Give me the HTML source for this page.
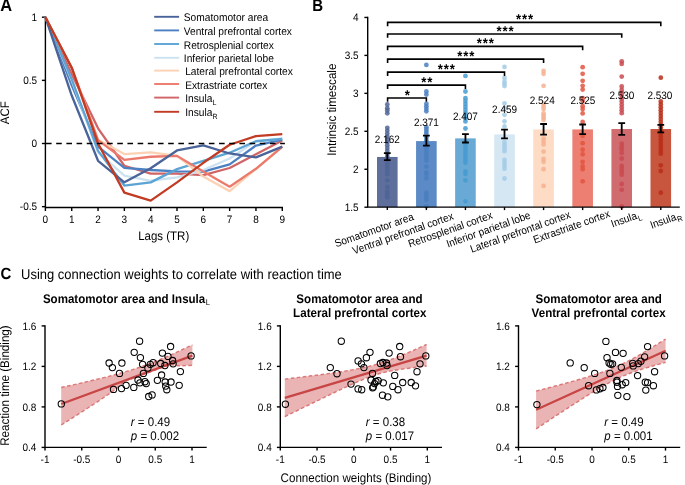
<!DOCTYPE html>
<html><head><meta charset="utf-8"><style>html,body{margin:0;padding:0;background:#fff;width:685px;height:485px;overflow:hidden}svg{display:block;will-change:transform;text-rendering:geometricPrecision}</style></head><body>
<svg width="685" height="485" viewBox="0 0 685 485" font-family="'Liberation Sans', sans-serif">
<rect width="685" height="485" fill="#fff"/>
<text transform="translate(0.2 11.2) scale(1 1.08)" font-weight="bold" font-size="16.4">A</text>
<g stroke="#000" stroke-width="1.4" fill="none">
<path d="M45.4 16.500000000000004V207.5H282.97999999999996"/>
<path d="M41.9 17.200000000000003H45.4"/>
<path d="M41.9 80.35H45.4"/>
<path d="M41.9 143.5H45.4"/>
<path d="M41.9 206.65H45.4"/>
<path d="M45.4 207.5V211.0"/>
<path d="M71.72 207.5V211.0"/>
<path d="M98.03999999999999 207.5V211.0"/>
<path d="M124.36000000000001 207.5V211.0"/>
<path d="M150.68 207.5V211.0"/>
<path d="M177.0 207.5V211.0"/>
<path d="M203.32000000000002 207.5V211.0"/>
<path d="M229.64000000000001 207.5V211.0"/>
<path d="M255.96 207.5V211.0"/>
<path d="M282.28 207.5V211.0"/>
</g>
<text transform="translate(37.1 20.800000000000004) scale(1 1.08)" font-size="10" text-anchor="end">1</text>
<text transform="translate(37.1 83.94999999999999) scale(1 1.08)" font-size="10" text-anchor="end">0.5</text>
<text transform="translate(37.1 147.1) scale(1 1.08)" font-size="10" text-anchor="end">0</text>
<text transform="translate(37.1 210.25) scale(1 1.08)" font-size="10" text-anchor="end">-0.5</text>
<text transform="translate(45.4 222.8) scale(1 1.08)" font-size="10" text-anchor="middle">0</text>
<text transform="translate(71.72 222.8) scale(1 1.08)" font-size="10" text-anchor="middle">1</text>
<text transform="translate(98.03999999999999 222.8) scale(1 1.08)" font-size="10" text-anchor="middle">2</text>
<text transform="translate(124.36000000000001 222.8) scale(1 1.08)" font-size="10" text-anchor="middle">3</text>
<text transform="translate(150.68 222.8) scale(1 1.08)" font-size="10" text-anchor="middle">4</text>
<text transform="translate(177.0 222.8) scale(1 1.08)" font-size="10" text-anchor="middle">5</text>
<text transform="translate(203.32000000000002 222.8) scale(1 1.08)" font-size="10" text-anchor="middle">6</text>
<text transform="translate(229.64000000000001 222.8) scale(1 1.08)" font-size="10" text-anchor="middle">7</text>
<text transform="translate(255.96 222.8) scale(1 1.08)" font-size="10" text-anchor="middle">8</text>
<text transform="translate(282.28 222.8) scale(1 1.08)" font-size="10" text-anchor="middle">9</text>
<text transform="translate(163.7 239.9) scale(1 1.08)" font-size="11.5" text-anchor="middle">Lags (TR)</text>
<text transform="translate(8.8 112.7) rotate(-90) scale(1 1.08)" font-size="11.5" text-anchor="middle">ACF</text>
<polyline points="45.40,17.20 71.72,74.03 98.04,128.34 124.36,165.73 150.68,173.56 177.00,173.56 203.32,175.07 229.64,168.00 255.96,154.24 282.28,140.47" fill="none" stroke="#d06466" stroke-width="2.3" stroke-linejoin="round"/>
<polyline points="45.40,17.20 71.72,85.40 98.04,146.66 124.36,167.88 150.68,170.02 177.00,171.29 203.32,171.54 229.64,164.34 255.96,145.52 282.28,139.71" fill="none" stroke="#4d80c2" stroke-width="2.3" stroke-linejoin="round"/>
<polyline points="45.40,17.20 71.72,80.35 98.04,152.34 124.36,175.71 150.68,180.76 177.00,177.35 203.32,170.02 229.64,158.53 255.96,141.23 282.28,138.32" fill="none" stroke="#cde2f1" stroke-width="2.3" stroke-linejoin="round"/>
<polyline points="45.40,17.20 71.72,79.09 98.04,150.83 124.36,185.56 150.68,182.40 177.00,169.14 203.32,160.80 229.64,152.72 255.96,141.23 282.28,138.95" fill="none" stroke="#5ba4d4" stroke-width="2.3" stroke-linejoin="round"/>
<polyline points="45.40,17.20 71.72,67.72 98.04,139.71 124.36,154.11 150.68,152.47 177.00,155.88 203.32,176.59 229.64,191.12 255.96,168.76 282.28,146.03" fill="none" stroke="#fcd2b5" stroke-width="2.3" stroke-linejoin="round"/>
<polyline points="45.40,17.20 71.72,67.72 98.04,140.09 124.36,159.92 150.68,156.76 177.00,155.88 203.32,171.54 229.64,186.69 255.96,168.76 282.28,146.91" fill="none" stroke="#eb7a6c" stroke-width="2.3" stroke-linejoin="round"/>
<polyline points="45.40,17.20 71.72,95.51 98.04,160.80 124.36,182.27 150.68,168.25 177.00,150.45 203.32,145.39 229.64,153.48 255.96,157.39 282.28,146.66" fill="none" stroke="#4a6398" stroke-width="2.3" stroke-linejoin="round"/>
<polyline points="45.40,17.20 71.72,67.72 98.04,143.50 124.36,192.63 150.68,200.59 177.00,182.40 203.32,162.82 229.64,144.76 255.96,136.05 282.28,134.15" fill="none" stroke="#c23b23" stroke-width="2.3" stroke-linejoin="round"/>
<path d="M46.0 143.5H284.88" stroke="#000" stroke-width="1.6" stroke-dasharray="5.6 4.58" fill="none"/>
<path d="M154.2 16.80H179.1" stroke="#4a6398" stroke-width="1.9"/>
<text transform="translate(183.8 21.40) scale(1 1.08)" font-size="10.2">Somatomotor area</text>
<path d="M154.2 30.40H179.1" stroke="#4d80c2" stroke-width="1.9"/>
<text transform="translate(183.8 35.00) scale(1 1.08)" font-size="10.2">Ventral prefrontal cortex</text>
<path d="M154.2 44.00H179.1" stroke="#5ba4d4" stroke-width="1.9"/>
<text transform="translate(183.8 48.60) scale(1 1.08)" font-size="10.2">Retrosplenial cortex</text>
<path d="M154.2 57.80H179.1" stroke="#cde2f1" stroke-width="1.9"/>
<text transform="translate(183.8 62.40) scale(1 1.08)" font-size="10.2">Inferior parietal lobe</text>
<path d="M154.2 70.60H179.1" stroke="#fcd2b5" stroke-width="1.9"/>
<text transform="translate(185.2 75.20) scale(1 1.08)" font-size="10.2">Lateral prefrontal cortex</text>
<path d="M154.2 84.00H179.1" stroke="#eb7a6c" stroke-width="1.9"/>
<text transform="translate(185.2 88.60) scale(1 1.08)" font-size="10.2">Extrastriate cortex</text>
<path d="M154.2 97.60H179.1" stroke="#d06466" stroke-width="1.9"/>
<text transform="translate(185.2 102.20) scale(1 1.08)" font-size="10.2">Insula<tspan font-size="7" dx="0.2" dy="2.6">L</tspan></text>
<path d="M154.2 111.80H179.1" stroke="#c23b23" stroke-width="1.9"/>
<text transform="translate(185.2 116.40) scale(1 1.08)" font-size="10.2">Insula<tspan font-size="7" dx="0.2" dy="2.6">R</tspan></text>
<text transform="translate(312.3 11.1) scale(1 1.12)" font-weight="bold" font-size="15">B</text>
<rect x="377.00" y="156.95" width="20.6" height="50.15" fill="#5e6f9c"/>
<rect x="416.07" y="141.09" width="20.6" height="66.01" fill="#5b8ac6"/>
<rect x="455.14" y="138.36" width="20.6" height="68.74" fill="#68aad5"/>
<rect x="494.21" y="134.41" width="20.6" height="72.69" fill="#d5e7f3"/>
<rect x="533.28" y="129.48" width="20.6" height="77.62" fill="#fddbc5"/>
<rect x="572.35" y="129.40" width="20.6" height="77.70" fill="#ec7f71"/>
<rect x="611.42" y="129.02" width="20.6" height="78.08" fill="#d06b6f"/>
<rect x="650.49" y="129.02" width="20.6" height="78.08" fill="#c8553e"/>
<circle cx="387.30" cy="104.5" r="2.4" fill="#4f6598" fill-opacity="0.85"/>
<circle cx="387.30" cy="108.2" r="2.4" fill="#4f6598" fill-opacity="0.85"/>
<circle cx="387.30" cy="110.5" r="2.4" fill="#4f6598" fill-opacity="0.85"/>
<circle cx="387.30" cy="113.3" r="2.4" fill="#4f6598" fill-opacity="0.85"/>
<circle cx="387.30" cy="127.8" r="2.4" fill="#4f6598" fill-opacity="0.85"/>
<circle cx="387.30" cy="130.7" r="2.4" fill="#4f6598" fill-opacity="0.85"/>
<circle cx="387.30" cy="133.6" r="2.4" fill="#4f6598" fill-opacity="0.85"/>
<circle cx="387.30" cy="136.5" r="2.4" fill="#4f6598" fill-opacity="0.85"/>
<circle cx="387.30" cy="139.4" r="2.4" fill="#4f6598" fill-opacity="0.85"/>
<circle cx="387.30" cy="142.3" r="2.4" fill="#4f6598" fill-opacity="0.85"/>
<circle cx="387.30" cy="145.2" r="2.4" fill="#4f6598" fill-opacity="0.85"/>
<circle cx="387.30" cy="148.1" r="2.4" fill="#4f6598" fill-opacity="0.85"/>
<circle cx="387.30" cy="151.0" r="2.4" fill="#4f6598" fill-opacity="0.85"/>
<circle cx="387.30" cy="153.9" r="2.4" fill="#4f6598" fill-opacity="0.85"/>
<circle cx="387.30" cy="156.8" r="2.4" fill="#4f6598" fill-opacity="0.85"/>
<circle cx="387.30" cy="159.7" r="2.4" fill="#4f6598" fill-opacity="0.85"/>
<circle cx="387.30" cy="162.6" r="2.4" fill="#4f6598" fill-opacity="0.85"/>
<circle cx="387.30" cy="165.5" r="2.4" fill="#4f6598" fill-opacity="0.85"/>
<circle cx="387.30" cy="168.4" r="2.4" fill="#4f6598" fill-opacity="0.85"/>
<circle cx="387.30" cy="171.3" r="2.4" fill="#4f6598" fill-opacity="0.85"/>
<circle cx="387.30" cy="174.2" r="2.4" fill="#4f6598" fill-opacity="0.85"/>
<circle cx="387.30" cy="180.3" r="2.4" fill="#4f6598" fill-opacity="0.85"/>
<circle cx="387.30" cy="186.9" r="2.4" fill="#4f6598" fill-opacity="0.85"/>
<circle cx="387.30" cy="191.4" r="2.4" fill="#4f6598" fill-opacity="0.85"/>
<circle cx="387.30" cy="193.3" r="2.4" fill="#4f6598" fill-opacity="0.85"/>
<circle cx="387.30" cy="196.4" r="2.4" fill="#4f6598" fill-opacity="0.85"/>
<circle cx="387.30" cy="197.6" r="2.4" fill="#4f6598" fill-opacity="0.85"/>
<circle cx="426.37" cy="64.9" r="2.4" fill="#4a7fc0" fill-opacity="0.85"/>
<circle cx="426.37" cy="91.5" r="2.4" fill="#4a7fc0" fill-opacity="0.85"/>
<circle cx="426.37" cy="94.6" r="2.4" fill="#4a7fc0" fill-opacity="0.85"/>
<circle cx="426.37" cy="103.8" r="2.4" fill="#4a7fc0" fill-opacity="0.85"/>
<circle cx="426.37" cy="106.3" r="2.4" fill="#4a7fc0" fill-opacity="0.85"/>
<circle cx="426.37" cy="108.8" r="2.4" fill="#4a7fc0" fill-opacity="0.85"/>
<circle cx="426.37" cy="111.3" r="2.4" fill="#4a7fc0" fill-opacity="0.85"/>
<circle cx="426.37" cy="127.2" r="2.4" fill="#4a7fc0" fill-opacity="0.85"/>
<circle cx="426.37" cy="129.5" r="2.4" fill="#4a7fc0" fill-opacity="0.85"/>
<circle cx="426.37" cy="131.8" r="2.4" fill="#4a7fc0" fill-opacity="0.85"/>
<circle cx="426.37" cy="134" r="2.4" fill="#4a7fc0" fill-opacity="0.85"/>
<circle cx="426.37" cy="137.5" r="2.4" fill="#4a7fc0" fill-opacity="0.85"/>
<circle cx="426.37" cy="140.4" r="2.4" fill="#4a7fc0" fill-opacity="0.85"/>
<circle cx="426.37" cy="143.3" r="2.4" fill="#4a7fc0" fill-opacity="0.85"/>
<circle cx="426.37" cy="146.2" r="2.4" fill="#4a7fc0" fill-opacity="0.85"/>
<circle cx="426.37" cy="149.1" r="2.4" fill="#4a7fc0" fill-opacity="0.85"/>
<circle cx="426.37" cy="152.0" r="2.4" fill="#4a7fc0" fill-opacity="0.85"/>
<circle cx="426.37" cy="154.9" r="2.4" fill="#4a7fc0" fill-opacity="0.85"/>
<circle cx="426.37" cy="157.8" r="2.4" fill="#4a7fc0" fill-opacity="0.85"/>
<circle cx="426.37" cy="160.7" r="2.4" fill="#4a7fc0" fill-opacity="0.85"/>
<circle cx="426.37" cy="166.7" r="2.4" fill="#4a7fc0" fill-opacity="0.85"/>
<circle cx="426.37" cy="172.3" r="2.4" fill="#4a7fc0" fill-opacity="0.85"/>
<circle cx="426.37" cy="174.1" r="2.4" fill="#4a7fc0" fill-opacity="0.85"/>
<circle cx="426.37" cy="178.2" r="2.4" fill="#4a7fc0" fill-opacity="0.85"/>
<circle cx="426.37" cy="192.7" r="2.4" fill="#4a7fc0" fill-opacity="0.85"/>
<circle cx="426.37" cy="195.1" r="2.4" fill="#4a7fc0" fill-opacity="0.85"/>
<circle cx="426.37" cy="197.4" r="2.4" fill="#4a7fc0" fill-opacity="0.85"/>
<circle cx="426.37" cy="200.1" r="2.4" fill="#4a7fc0" fill-opacity="0.85"/>
<circle cx="426.37" cy="206.3" r="2.4" fill="#4a7fc0" fill-opacity="0.85"/>
<circle cx="465.44" cy="75.9" r="2.4" fill="#479bd0" fill-opacity="0.85"/>
<circle cx="465.44" cy="91.5" r="2.4" fill="#479bd0" fill-opacity="0.85"/>
<circle cx="465.44" cy="98.2" r="2.4" fill="#479bd0" fill-opacity="0.85"/>
<circle cx="465.44" cy="101.1" r="2.4" fill="#479bd0" fill-opacity="0.85"/>
<circle cx="465.44" cy="104.0" r="2.4" fill="#479bd0" fill-opacity="0.85"/>
<circle cx="465.44" cy="106.9" r="2.4" fill="#479bd0" fill-opacity="0.85"/>
<circle cx="465.44" cy="109.8" r="2.4" fill="#479bd0" fill-opacity="0.85"/>
<circle cx="465.44" cy="112.7" r="2.4" fill="#479bd0" fill-opacity="0.85"/>
<circle cx="465.44" cy="115.6" r="2.4" fill="#479bd0" fill-opacity="0.85"/>
<circle cx="465.44" cy="118.5" r="2.4" fill="#479bd0" fill-opacity="0.85"/>
<circle cx="465.44" cy="121.4" r="2.4" fill="#479bd0" fill-opacity="0.85"/>
<circle cx="465.44" cy="128.5" r="2.4" fill="#479bd0" fill-opacity="0.85"/>
<circle cx="465.44" cy="142.5" r="2.4" fill="#479bd0" fill-opacity="0.85"/>
<circle cx="465.44" cy="145.4" r="2.4" fill="#479bd0" fill-opacity="0.85"/>
<circle cx="465.44" cy="148.3" r="2.4" fill="#479bd0" fill-opacity="0.85"/>
<circle cx="465.44" cy="151.2" r="2.4" fill="#479bd0" fill-opacity="0.85"/>
<circle cx="465.44" cy="154.1" r="2.4" fill="#479bd0" fill-opacity="0.85"/>
<circle cx="465.44" cy="157.0" r="2.4" fill="#479bd0" fill-opacity="0.85"/>
<circle cx="465.44" cy="159.9" r="2.4" fill="#479bd0" fill-opacity="0.85"/>
<circle cx="465.44" cy="162.8" r="2.4" fill="#479bd0" fill-opacity="0.85"/>
<circle cx="465.44" cy="171.5" r="2.4" fill="#479bd0" fill-opacity="0.85"/>
<circle cx="465.44" cy="174.1" r="2.4" fill="#479bd0" fill-opacity="0.85"/>
<circle cx="465.44" cy="180.3" r="2.4" fill="#479bd0" fill-opacity="0.85"/>
<circle cx="465.44" cy="201.3" r="2.4" fill="#479bd0" fill-opacity="0.85"/>
<circle cx="504.51" cy="66.9" r="2.4" fill="#a3cbe6" fill-opacity="0.85"/>
<circle cx="504.51" cy="78" r="2.4" fill="#a3cbe6" fill-opacity="0.85"/>
<circle cx="504.51" cy="81.6" r="2.4" fill="#a3cbe6" fill-opacity="0.85"/>
<circle cx="504.51" cy="83.8" r="2.4" fill="#a3cbe6" fill-opacity="0.85"/>
<circle cx="504.51" cy="86" r="2.4" fill="#a3cbe6" fill-opacity="0.85"/>
<circle cx="504.51" cy="103.3" r="2.4" fill="#a3cbe6" fill-opacity="0.85"/>
<circle cx="504.51" cy="108.5" r="2.4" fill="#a3cbe6" fill-opacity="0.85"/>
<circle cx="504.51" cy="114.8" r="2.4" fill="#a3cbe6" fill-opacity="0.85"/>
<circle cx="504.51" cy="121.3" r="2.4" fill="#a3cbe6" fill-opacity="0.85"/>
<circle cx="504.51" cy="126.4" r="2.4" fill="#a3cbe6" fill-opacity="0.85"/>
<circle cx="504.51" cy="142.5" r="2.4" fill="#a3cbe6" fill-opacity="0.85"/>
<circle cx="504.51" cy="145.4" r="2.4" fill="#a3cbe6" fill-opacity="0.85"/>
<circle cx="504.51" cy="148.3" r="2.4" fill="#a3cbe6" fill-opacity="0.85"/>
<circle cx="504.51" cy="151.2" r="2.4" fill="#a3cbe6" fill-opacity="0.85"/>
<circle cx="504.51" cy="160.0" r="2.4" fill="#a3cbe6" fill-opacity="0.85"/>
<circle cx="504.51" cy="162.9" r="2.4" fill="#a3cbe6" fill-opacity="0.85"/>
<circle cx="504.51" cy="165.8" r="2.4" fill="#a3cbe6" fill-opacity="0.85"/>
<circle cx="504.51" cy="168.7" r="2.4" fill="#a3cbe6" fill-opacity="0.85"/>
<circle cx="504.51" cy="178.5" r="2.4" fill="#a3cbe6" fill-opacity="0.85"/>
<circle cx="543.58" cy="70.9" r="2.4" fill="#f7b08e" fill-opacity="0.85"/>
<circle cx="543.58" cy="73.8" r="2.4" fill="#f7b08e" fill-opacity="0.85"/>
<circle cx="543.58" cy="85.8" r="2.4" fill="#f7b08e" fill-opacity="0.85"/>
<circle cx="543.58" cy="103.3" r="2.4" fill="#f7b08e" fill-opacity="0.85"/>
<circle cx="543.58" cy="106.2" r="2.4" fill="#f7b08e" fill-opacity="0.85"/>
<circle cx="543.58" cy="109.1" r="2.4" fill="#f7b08e" fill-opacity="0.85"/>
<circle cx="543.58" cy="113.4" r="2.4" fill="#f7b08e" fill-opacity="0.85"/>
<circle cx="543.58" cy="115.6" r="2.4" fill="#f7b08e" fill-opacity="0.85"/>
<circle cx="543.58" cy="117.7" r="2.4" fill="#f7b08e" fill-opacity="0.85"/>
<circle cx="543.58" cy="119.9" r="2.4" fill="#f7b08e" fill-opacity="0.85"/>
<circle cx="543.58" cy="138.6" r="2.4" fill="#f7b08e" fill-opacity="0.85"/>
<circle cx="543.58" cy="141.5" r="2.4" fill="#f7b08e" fill-opacity="0.85"/>
<circle cx="543.58" cy="144.4" r="2.4" fill="#f7b08e" fill-opacity="0.85"/>
<circle cx="543.58" cy="151.6" r="2.4" fill="#f7b08e" fill-opacity="0.85"/>
<circle cx="543.58" cy="159" r="2.4" fill="#f7b08e" fill-opacity="0.85"/>
<circle cx="543.58" cy="161.8" r="2.4" fill="#f7b08e" fill-opacity="0.85"/>
<circle cx="543.58" cy="169.2" r="2.4" fill="#f7b08e" fill-opacity="0.85"/>
<circle cx="543.58" cy="185.9" r="2.4" fill="#f7b08e" fill-opacity="0.85"/>
<circle cx="582.65" cy="67.2" r="2.4" fill="#e0553f" fill-opacity="0.85"/>
<circle cx="582.65" cy="73.8" r="2.4" fill="#e0553f" fill-opacity="0.85"/>
<circle cx="582.65" cy="80.8" r="2.4" fill="#e0553f" fill-opacity="0.85"/>
<circle cx="582.65" cy="85.8" r="2.4" fill="#e0553f" fill-opacity="0.85"/>
<circle cx="582.65" cy="89.6" r="2.4" fill="#e0553f" fill-opacity="0.85"/>
<circle cx="582.65" cy="98.2" r="2.4" fill="#e0553f" fill-opacity="0.85"/>
<circle cx="582.65" cy="101.1" r="2.4" fill="#e0553f" fill-opacity="0.85"/>
<circle cx="582.65" cy="106.2" r="2.4" fill="#e0553f" fill-opacity="0.85"/>
<circle cx="582.65" cy="109.1" r="2.4" fill="#e0553f" fill-opacity="0.85"/>
<circle cx="582.65" cy="113.4" r="2.4" fill="#e0553f" fill-opacity="0.85"/>
<circle cx="582.65" cy="122" r="2.4" fill="#e0553f" fill-opacity="0.85"/>
<circle cx="582.65" cy="135.8" r="2.4" fill="#e0553f" fill-opacity="0.85"/>
<circle cx="582.65" cy="143.2" r="2.4" fill="#e0553f" fill-opacity="0.85"/>
<circle cx="582.65" cy="149.7" r="2.4" fill="#e0553f" fill-opacity="0.85"/>
<circle cx="582.65" cy="154.3" r="2.4" fill="#e0553f" fill-opacity="0.85"/>
<circle cx="582.65" cy="161.8" r="2.4" fill="#e0553f" fill-opacity="0.85"/>
<circle cx="582.65" cy="166.4" r="2.4" fill="#e0553f" fill-opacity="0.85"/>
<circle cx="582.65" cy="169.3" r="2.4" fill="#e0553f" fill-opacity="0.85"/>
<circle cx="582.65" cy="181.3" r="2.4" fill="#e0553f" fill-opacity="0.85"/>
<circle cx="621.72" cy="61.3" r="2.4" fill="#c94a50" fill-opacity="0.85"/>
<circle cx="621.72" cy="63.9" r="2.4" fill="#c94a50" fill-opacity="0.85"/>
<circle cx="621.72" cy="76.6" r="2.4" fill="#c94a50" fill-opacity="0.85"/>
<circle cx="621.72" cy="86.5" r="2.4" fill="#c94a50" fill-opacity="0.85"/>
<circle cx="621.72" cy="90.0" r="2.4" fill="#c94a50" fill-opacity="0.85"/>
<circle cx="621.72" cy="92.9" r="2.4" fill="#c94a50" fill-opacity="0.85"/>
<circle cx="621.72" cy="95.8" r="2.4" fill="#c94a50" fill-opacity="0.85"/>
<circle cx="621.72" cy="98.7" r="2.4" fill="#c94a50" fill-opacity="0.85"/>
<circle cx="621.72" cy="101.6" r="2.4" fill="#c94a50" fill-opacity="0.85"/>
<circle cx="621.72" cy="104.5" r="2.4" fill="#c94a50" fill-opacity="0.85"/>
<circle cx="621.72" cy="107.4" r="2.4" fill="#c94a50" fill-opacity="0.85"/>
<circle cx="621.72" cy="110.3" r="2.4" fill="#c94a50" fill-opacity="0.85"/>
<circle cx="621.72" cy="113.2" r="2.4" fill="#c94a50" fill-opacity="0.85"/>
<circle cx="621.72" cy="143.6" r="2.4" fill="#c94a50" fill-opacity="0.85"/>
<circle cx="621.72" cy="146.5" r="2.4" fill="#c94a50" fill-opacity="0.85"/>
<circle cx="621.72" cy="149.2" r="2.4" fill="#c94a50" fill-opacity="0.85"/>
<circle cx="621.72" cy="153" r="2.4" fill="#c94a50" fill-opacity="0.85"/>
<circle cx="621.72" cy="158.5" r="2.4" fill="#c94a50" fill-opacity="0.85"/>
<circle cx="621.72" cy="166.0" r="2.4" fill="#c94a50" fill-opacity="0.85"/>
<circle cx="621.72" cy="168.9" r="2.4" fill="#c94a50" fill-opacity="0.85"/>
<circle cx="621.72" cy="171.8" r="2.4" fill="#c94a50" fill-opacity="0.85"/>
<circle cx="621.72" cy="174.7" r="2.4" fill="#c94a50" fill-opacity="0.85"/>
<circle cx="621.72" cy="184" r="2.4" fill="#c94a50" fill-opacity="0.85"/>
<circle cx="621.72" cy="189.8" r="2.4" fill="#c94a50" fill-opacity="0.85"/>
<circle cx="621.72" cy="206.4" r="2.4" fill="#c94a50" fill-opacity="0.85"/>
<circle cx="660.79" cy="77.7" r="2.4" fill="#b92e17" fill-opacity="0.85"/>
<circle cx="660.79" cy="101.5" r="2.4" fill="#b92e17" fill-opacity="0.85"/>
<circle cx="660.79" cy="104.4" r="2.4" fill="#b92e17" fill-opacity="0.85"/>
<circle cx="660.79" cy="107.3" r="2.4" fill="#b92e17" fill-opacity="0.85"/>
<circle cx="660.79" cy="110.2" r="2.4" fill="#b92e17" fill-opacity="0.85"/>
<circle cx="660.79" cy="113.1" r="2.4" fill="#b92e17" fill-opacity="0.85"/>
<circle cx="660.79" cy="116.0" r="2.4" fill="#b92e17" fill-opacity="0.85"/>
<circle cx="660.79" cy="118.9" r="2.4" fill="#b92e17" fill-opacity="0.85"/>
<circle cx="660.79" cy="121.8" r="2.4" fill="#b92e17" fill-opacity="0.85"/>
<circle cx="660.79" cy="124.7" r="2.4" fill="#b92e17" fill-opacity="0.85"/>
<circle cx="660.79" cy="127.6" r="2.4" fill="#b92e17" fill-opacity="0.85"/>
<circle cx="660.79" cy="130.5" r="2.4" fill="#b92e17" fill-opacity="0.85"/>
<circle cx="660.79" cy="133.4" r="2.4" fill="#b92e17" fill-opacity="0.85"/>
<circle cx="660.79" cy="136.3" r="2.4" fill="#b92e17" fill-opacity="0.85"/>
<circle cx="660.79" cy="139.2" r="2.4" fill="#b92e17" fill-opacity="0.85"/>
<circle cx="660.79" cy="142.1" r="2.4" fill="#b92e17" fill-opacity="0.85"/>
<circle cx="660.79" cy="145.0" r="2.4" fill="#b92e17" fill-opacity="0.85"/>
<circle cx="660.79" cy="147.9" r="2.4" fill="#b92e17" fill-opacity="0.85"/>
<circle cx="660.79" cy="150.8" r="2.4" fill="#b92e17" fill-opacity="0.85"/>
<circle cx="660.79" cy="153.7" r="2.4" fill="#b92e17" fill-opacity="0.85"/>
<circle cx="660.79" cy="165.3" r="2.4" fill="#b92e17" fill-opacity="0.85"/>
<circle cx="660.79" cy="171" r="2.4" fill="#b92e17" fill-opacity="0.85"/>
<circle cx="660.79" cy="192.7" r="2.4" fill="#b92e17" fill-opacity="0.85"/>
<path d="M387.3 153.2V160.1M383.90000000000003 153.2H390.7M383.90000000000003 160.1H390.7" stroke="#000" stroke-width="1.8" fill="none"/>
<path d="M426.37 135.6V145.7M422.97 135.6H429.77M422.97 145.7H429.77" stroke="#000" stroke-width="1.8" fill="none"/>
<path d="M465.44 134.1V142.5M462.04 134.1H468.84M462.04 142.5H468.84" stroke="#000" stroke-width="1.8" fill="none"/>
<path d="M504.51 129.6V138.3M501.11 129.6H507.90999999999997M501.11 138.3H507.90999999999997" stroke="#000" stroke-width="1.8" fill="none"/>
<path d="M543.58 124.0V134.6M540.1800000000001 124.0H546.98M540.1800000000001 134.6H546.98" stroke="#000" stroke-width="1.8" fill="none"/>
<path d="M582.65 124.5V134.2M579.25 124.5H586.05M579.25 134.2H586.05" stroke="#000" stroke-width="1.8" fill="none"/>
<path d="M621.72 123.1V134.9M618.32 123.1H625.12M618.32 134.9H625.12" stroke="#000" stroke-width="1.8" fill="none"/>
<path d="M660.79 124.9V132.3M657.39 124.9H664.1899999999999M657.39 132.3H664.1899999999999" stroke="#000" stroke-width="1.8" fill="none"/>
<text transform="translate(387.3 143.2) scale(1 1.08)" font-size="10" text-anchor="middle">2.162</text>
<text transform="translate(426.4 126.1) scale(1 1.08)" font-size="10" text-anchor="middle">2.371</text>
<text transform="translate(465.4 120.3) scale(1 1.08)" font-size="10" text-anchor="middle">2.407</text>
<text transform="translate(504.6 113.3) scale(1 1.08)" font-size="10" text-anchor="middle">2.459</text>
<text transform="translate(542.2 103.6) scale(1 1.08)" font-size="10" text-anchor="middle">2.524</text>
<text transform="translate(582.9 103.6) scale(1 1.08)" font-size="10" text-anchor="middle">2.525</text>
<text transform="translate(621.9 98.8) scale(1 1.08)" font-size="10" text-anchor="middle">2.530</text>
<text transform="translate(659.9 98.8) scale(1 1.08)" font-size="10" text-anchor="middle">2.530</text>
<g stroke="#000" stroke-width="1.4" fill="none">
<path d="M367.7 16.74999999999999V207.1H679.8"/>
<path d="M364.4 17.45H367.7"/>
<path d="M364.4 55.40H367.7"/>
<path d="M364.4 93.35H367.7"/>
<path d="M364.4 131.30H367.7"/>
<path d="M364.4 169.25H367.7"/>
<path d="M364.4 207.20H367.7"/>
<path d="M387.30 207.1V210.1"/>
<path d="M426.37 207.1V210.1"/>
<path d="M465.44 207.1V210.1"/>
<path d="M504.51 207.1V210.1"/>
<path d="M543.58 207.1V210.1"/>
<path d="M582.65 207.1V210.1"/>
<path d="M621.72 207.1V210.1"/>
<path d="M660.79 207.1V210.1"/>
</g>
<text transform="translate(358.6 21.05) scale(1 1.08)" font-size="10" text-anchor="end">4</text>
<text transform="translate(358.6 59.00) scale(1 1.08)" font-size="10" text-anchor="end">3.5</text>
<text transform="translate(358.6 96.95) scale(1 1.08)" font-size="10" text-anchor="end">3</text>
<text transform="translate(358.6 134.90) scale(1 1.08)" font-size="10" text-anchor="end">2.5</text>
<text transform="translate(358.6 172.85) scale(1 1.08)" font-size="10" text-anchor="end">2</text>
<text transform="translate(358.6 210.80) scale(1 1.08)" font-size="10" text-anchor="end">1.5</text>
<text transform="translate(335.5 109.7) rotate(-90) scale(1 1.08)" font-size="11.6" text-anchor="middle">Intrinsic timescale</text>
<path d="M387.6 101.8V98.0H426.37V101.8" stroke="#000" stroke-width="1.6" fill="none"/>
<text transform="translate(407.29 99.87) scale(1 1.08)" font-size="13.2" font-weight="bold" text-anchor="middle">*</text>
<path d="M387.6 88.89999999999999V85.1H465.44V88.89999999999999" stroke="#000" stroke-width="1.6" fill="none"/>
<text transform="translate(423.82 86.97) scale(1 1.08)" font-size="13.2" font-weight="bold" text-anchor="middle">*</text>
<text transform="translate(429.82 86.97) scale(1 1.08)" font-size="13.2" font-weight="bold" text-anchor="middle">*</text>
<path d="M387.6 75.89999999999999V72.1H504.51V75.89999999999999" stroke="#000" stroke-width="1.6" fill="none"/>
<text transform="translate(440.36 73.97) scale(1 1.08)" font-size="13.2" font-weight="bold" text-anchor="middle">*</text>
<text transform="translate(446.36 73.97) scale(1 1.08)" font-size="13.2" font-weight="bold" text-anchor="middle">*</text>
<text transform="translate(452.36 73.97) scale(1 1.08)" font-size="13.2" font-weight="bold" text-anchor="middle">*</text>
<path d="M387.6 62.9V59.1H543.58V62.9" stroke="#000" stroke-width="1.6" fill="none"/>
<text transform="translate(459.89 60.97) scale(1 1.08)" font-size="13.2" font-weight="bold" text-anchor="middle">*</text>
<text transform="translate(465.89 60.97) scale(1 1.08)" font-size="13.2" font-weight="bold" text-anchor="middle">*</text>
<text transform="translate(471.89 60.97) scale(1 1.08)" font-size="13.2" font-weight="bold" text-anchor="middle">*</text>
<path d="M387.6 50.199999999999996V46.4H582.65V50.199999999999996" stroke="#000" stroke-width="1.6" fill="none"/>
<text transform="translate(479.43 48.27) scale(1 1.08)" font-size="13.2" font-weight="bold" text-anchor="middle">*</text>
<text transform="translate(485.43 48.27) scale(1 1.08)" font-size="13.2" font-weight="bold" text-anchor="middle">*</text>
<text transform="translate(491.43 48.27) scale(1 1.08)" font-size="13.2" font-weight="bold" text-anchor="middle">*</text>
<path d="M387.6 37.8V34.0H621.72V37.8" stroke="#000" stroke-width="1.6" fill="none"/>
<text transform="translate(498.96 35.87) scale(1 1.08)" font-size="13.2" font-weight="bold" text-anchor="middle">*</text>
<text transform="translate(504.96 35.87) scale(1 1.08)" font-size="13.2" font-weight="bold" text-anchor="middle">*</text>
<text transform="translate(510.96 35.87) scale(1 1.08)" font-size="13.2" font-weight="bold" text-anchor="middle">*</text>
<path d="M387.6 26.2V22.4H660.79V26.2" stroke="#000" stroke-width="1.6" fill="none"/>
<text transform="translate(518.49 24.27) scale(1 1.08)" font-size="13.2" font-weight="bold" text-anchor="middle">*</text>
<text transform="translate(524.49 24.27) scale(1 1.08)" font-size="13.2" font-weight="bold" text-anchor="middle">*</text>
<text transform="translate(530.49 24.27) scale(1 1.08)" font-size="13.2" font-weight="bold" text-anchor="middle">*</text>
<text transform="translate(414.4 219.6) rotate(-19.5) scale(1 1.08)" font-size="10" text-anchor="end">Somatomotor area</text>
<text transform="translate(454.2 219.0) rotate(-19.5) scale(1 1.08)" font-size="10" text-anchor="end">Ventral prefrontal cortex</text>
<text transform="translate(493.1 218.1) rotate(-19.5) scale(1 1.08)" font-size="10" text-anchor="end">Retrosplenial cortex</text>
<text transform="translate(531.2 218.1) rotate(-19.5) scale(1 1.08)" font-size="10" text-anchor="end">Inferior parietal lobe</text>
<text transform="translate(571.3 217.5) rotate(-19.5) scale(1 1.08)" font-size="10" text-anchor="end">Lateral prefrontal cortex</text>
<text transform="translate(610.7 216.6) rotate(-19.5) scale(1 1.08)" font-size="10" text-anchor="end">Extrastriate cortex</text>
<text transform="translate(637.7 218.6) rotate(-19.5) scale(1 1.08)" font-size="10" text-anchor="end">Insula</text>
<text transform="translate(637.7 218.6) rotate(-19.5) scale(1 1.08)" font-size="7.4" x="0.4" y="2.6">L</text>
<text transform="translate(676.9 219.8) rotate(-19.5) scale(1 1.08)" font-size="10" text-anchor="end">Insula</text>
<text transform="translate(676.9 219.8) rotate(-19.5) scale(1 1.08)" font-size="7.4" x="0.4" y="2.6">R</text>
<text transform="translate(0.6 279.3) scale(1 1.08)" font-weight="bold" font-size="15">C</text>
<text transform="translate(21 279.2) scale(1 1.08)" font-size="13">Using connection weights to correlate with reaction time</text>
<text transform="translate(42.9 302.6) scale(1 1.08)" font-weight="bold" font-size="11.55">Somatomotor area and Insula<tspan font-size="7.6" font-weight="normal" dx="0.6" dy="2.6">L</tspan></text>
<polygon points="61.20,387.50 64.48,386.78 67.76,386.06 71.04,385.33 74.32,384.59 77.60,383.85 80.88,383.10 84.16,382.35 87.44,381.59 90.72,380.82 94.00,380.04 97.28,379.25 100.56,378.44 103.84,377.63 107.12,376.79 110.40,375.94 113.68,375.08 116.96,374.19 120.24,373.28 123.52,372.34 126.80,371.38 130.08,370.38 133.36,369.36 136.64,368.29 139.92,367.19 143.20,366.05 146.48,364.88 149.76,363.66 153.04,362.40 156.32,361.10 159.60,359.77 162.88,358.40 166.16,356.99 169.44,355.55 172.72,354.09 176.00,352.59 179.28,351.07 182.56,349.53 185.84,347.97 189.12,346.39 192.40,344.80 192.40,365.20 189.12,365.41 185.84,365.57 182.56,365.67 179.28,365.67 176.00,365.48 172.72,364.67 169.44,364.78 166.16,365.99 162.88,367.20 159.60,368.41 156.32,369.62 153.04,370.83 149.76,372.04 146.48,373.25 143.20,374.46 139.92,375.67 136.64,376.88 133.36,378.09 130.08,379.30 126.80,380.51 123.52,381.72 120.24,385.37 116.96,388.13 113.68,390.61 110.40,392.97 107.12,395.24 103.84,397.47 100.56,399.67 97.28,401.84 94.00,403.99 90.72,406.13 87.44,408.25 84.16,410.36 80.88,412.47 77.60,414.57 74.32,416.67 71.04,418.76 67.76,420.84 64.48,422.92 61.20,425.00" fill="#ebb4b4"/>
<polyline points="61.20,387.50 64.48,386.78 67.76,386.06 71.04,385.33 74.32,384.59 77.60,383.85 80.88,383.10 84.16,382.35 87.44,381.59 90.72,380.82 94.00,380.04 97.28,379.25 100.56,378.44 103.84,377.63 107.12,376.79 110.40,375.94 113.68,375.08 116.96,374.19 120.24,373.28 123.52,372.34 126.80,371.38 130.08,370.38 133.36,369.36 136.64,368.29 139.92,367.19 143.20,366.05 146.48,364.88 149.76,363.66 153.04,362.40 156.32,361.10 159.60,359.77 162.88,358.40 166.16,356.99 169.44,355.55 172.72,354.09 176.00,352.59 179.28,351.07 182.56,349.53 185.84,347.97 189.12,346.39 192.40,344.80" stroke="#dc7878" stroke-width="1.45" stroke-dasharray="3.6 2.4" fill="none"/>
<polyline points="61.20,425.00 64.48,422.92 67.76,420.84 71.04,418.76 74.32,416.67 77.60,414.57 80.88,412.47 84.16,410.36 87.44,408.25 90.72,406.13 94.00,403.99 97.28,401.84 100.56,399.67 103.84,397.47 107.12,395.24 110.40,392.97 113.68,390.61 116.96,388.13 120.24,385.37 123.52,381.72 126.80,380.51 130.08,379.30 133.36,378.09 136.64,376.88 139.92,375.67 143.20,374.46 146.48,373.25 149.76,372.04 153.04,370.83 156.32,369.62 159.60,368.41 162.88,367.20 166.16,365.99 169.44,364.78 172.72,364.67 176.00,365.48 179.28,365.67 182.56,365.67 185.84,365.57 189.12,365.41 192.40,365.20" stroke="#dc7878" stroke-width="1.45" stroke-dasharray="3.6 2.4" fill="none"/>
<path d="M61.2 404.0L192.4 355.6" stroke="#c84545" stroke-width="2.3" fill="none"/>
<circle cx="139.6" cy="341.2" r="3.15" fill="none" stroke="#000" stroke-width="1.05"/>
<circle cx="170.6" cy="346.5" r="3.15" fill="none" stroke="#000" stroke-width="1.05"/>
<circle cx="134.2" cy="352.3" r="3.15" fill="none" stroke="#000" stroke-width="1.05"/>
<circle cx="162.4" cy="353.1" r="3.15" fill="none" stroke="#000" stroke-width="1.05"/>
<circle cx="168.0" cy="356.4" r="3.15" fill="none" stroke="#000" stroke-width="1.05"/>
<circle cx="140.4" cy="357.6" r="3.15" fill="none" stroke="#000" stroke-width="1.05"/>
<circle cx="191.1" cy="355.9" r="3.15" fill="none" stroke="#000" stroke-width="1.05"/>
<circle cx="109.1" cy="363.0" r="3.15" fill="none" stroke="#000" stroke-width="1.05"/>
<circle cx="121.9" cy="363.0" r="3.15" fill="none" stroke="#000" stroke-width="1.05"/>
<circle cx="112.4" cy="367.6" r="3.15" fill="none" stroke="#000" stroke-width="1.05"/>
<circle cx="142.6" cy="364.3" r="3.15" fill="none" stroke="#000" stroke-width="1.05"/>
<circle cx="150.3" cy="364.3" r="3.15" fill="none" stroke="#000" stroke-width="1.05"/>
<circle cx="153.1" cy="362.7" r="3.15" fill="none" stroke="#000" stroke-width="1.05"/>
<circle cx="160.7" cy="363.5" r="3.15" fill="none" stroke="#000" stroke-width="1.05"/>
<circle cx="164.9" cy="365.5" r="3.15" fill="none" stroke="#000" stroke-width="1.05"/>
<circle cx="172.6" cy="360.5" r="3.15" fill="none" stroke="#000" stroke-width="1.05"/>
<circle cx="173.1" cy="363.8" r="3.15" fill="none" stroke="#000" stroke-width="1.05"/>
<circle cx="147.9" cy="368.0" r="3.15" fill="none" stroke="#000" stroke-width="1.05"/>
<circle cx="119.5" cy="373.4" r="3.15" fill="none" stroke="#000" stroke-width="1.05"/>
<circle cx="143.4" cy="373.4" r="3.15" fill="none" stroke="#000" stroke-width="1.05"/>
<circle cx="180.4" cy="371.6" r="3.15" fill="none" stroke="#000" stroke-width="1.05"/>
<circle cx="161.6" cy="375.0" r="3.15" fill="none" stroke="#000" stroke-width="1.05"/>
<circle cx="138.0" cy="380.0" r="3.15" fill="none" stroke="#000" stroke-width="1.05"/>
<circle cx="139.9" cy="382.8" r="3.15" fill="none" stroke="#000" stroke-width="1.05"/>
<circle cx="144.9" cy="381.7" r="3.15" fill="none" stroke="#000" stroke-width="1.05"/>
<circle cx="146.2" cy="383.6" r="3.15" fill="none" stroke="#000" stroke-width="1.05"/>
<circle cx="157.4" cy="380.3" r="3.15" fill="none" stroke="#000" stroke-width="1.05"/>
<circle cx="165.2" cy="382.0" r="3.15" fill="none" stroke="#000" stroke-width="1.05"/>
<circle cx="171.0" cy="382.0" r="3.15" fill="none" stroke="#000" stroke-width="1.05"/>
<circle cx="165.7" cy="386.1" r="3.15" fill="none" stroke="#000" stroke-width="1.05"/>
<circle cx="166.8" cy="389.7" r="3.15" fill="none" stroke="#000" stroke-width="1.05"/>
<circle cx="179.2" cy="385.3" r="3.15" fill="none" stroke="#000" stroke-width="1.05"/>
<circle cx="126.1" cy="385.3" r="3.15" fill="none" stroke="#000" stroke-width="1.05"/>
<circle cx="121.5" cy="388.6" r="3.15" fill="none" stroke="#000" stroke-width="1.05"/>
<circle cx="113.5" cy="389.4" r="3.15" fill="none" stroke="#000" stroke-width="1.05"/>
<circle cx="133.8" cy="387.4" r="3.15" fill="none" stroke="#000" stroke-width="1.05"/>
<circle cx="148.7" cy="396.5" r="3.15" fill="none" stroke="#000" stroke-width="1.05"/>
<circle cx="152.1" cy="394.9" r="3.15" fill="none" stroke="#000" stroke-width="1.05"/>
<circle cx="61.3" cy="403.9" r="3.15" fill="none" stroke="#000" stroke-width="1.05"/>
<path d="M45.0 325.20V447.40H206.70" stroke="#000" stroke-width="1.4" fill="none"/>
<path d="M41.60 325.90H45.0" stroke="#000" stroke-width="1.4"/>
<text transform="translate(36.40 329.50) scale(1 1.08)" font-size="10" text-anchor="end">1.6</text>
<path d="M41.60 366.40H45.0" stroke="#000" stroke-width="1.4"/>
<text transform="translate(36.40 370.00) scale(1 1.08)" font-size="10" text-anchor="end">1.2</text>
<path d="M41.60 406.90H45.0" stroke="#000" stroke-width="1.4"/>
<text transform="translate(36.40 410.50) scale(1 1.08)" font-size="10" text-anchor="end">0.8</text>
<path d="M41.60 447.40H45.0" stroke="#000" stroke-width="1.4"/>
<text transform="translate(36.40 451.00) scale(1 1.08)" font-size="10" text-anchor="end">0.4</text>
<path d="M45.00 447.40V450.60" stroke="#000" stroke-width="1.4"/>
<text transform="translate(45.00 463) scale(1 1.08)" font-size="10" text-anchor="middle">-1</text>
<path d="M81.75 447.40V450.60" stroke="#000" stroke-width="1.4"/>
<text transform="translate(81.75 463) scale(1 1.08)" font-size="10" text-anchor="middle">-0.5</text>
<path d="M118.50 447.40V450.60" stroke="#000" stroke-width="1.4"/>
<text transform="translate(118.50 463) scale(1 1.08)" font-size="10" text-anchor="middle">0</text>
<path d="M155.25 447.40V450.60" stroke="#000" stroke-width="1.4"/>
<text transform="translate(155.25 463) scale(1 1.08)" font-size="10" text-anchor="middle">0.5</text>
<path d="M192.00 447.40V450.60" stroke="#000" stroke-width="1.4"/>
<text transform="translate(192.00 463) scale(1 1.08)" font-size="10" text-anchor="middle">1</text>
<text transform="translate(130.8 425.5) scale(1 1.08)" font-size="11.5"><tspan font-style="italic">r</tspan> = 0.49</text>
<text transform="translate(130.8 440) scale(1 1.08)" font-size="11.5"><tspan font-style="italic">p</tspan> = 0.002</text>
<text transform="translate(359.5 302.7) scale(1 1.08)" font-weight="bold" font-size="11.6" text-anchor="middle">Somatomotor area and</text>
<text transform="translate(359.8 316.7) scale(1 1.08)" font-weight="bold" font-size="11.6" text-anchor="middle">Lateral prefrontal cortex</text>
<polygon points="284.80,379.10 288.35,378.68 291.89,378.25 295.44,377.83 298.98,377.40 302.53,376.96 306.07,376.52 309.62,376.08 313.16,375.62 316.71,375.17 320.25,374.70 323.80,374.23 327.34,373.75 330.88,373.25 334.43,372.74 337.98,372.22 341.52,371.67 345.06,371.11 348.61,370.52 352.16,369.90 355.70,369.24 359.25,368.55 362.79,367.80 366.34,367.00 369.88,366.14 373.43,365.21 376.97,364.21 380.51,363.14 384.06,362.00 387.61,360.78 391.15,359.50 394.70,358.16 398.24,356.78 401.79,355.34 405.33,353.87 408.88,352.37 412.42,350.83 415.97,349.28 419.51,347.70 423.06,346.11 426.60,344.50 426.60,366.00 423.06,366.41 419.51,366.83 415.97,367.26 412.42,367.71 408.88,368.16 405.33,368.64 401.79,369.15 398.24,369.68 394.70,370.27 391.15,370.90 387.61,371.61 384.06,372.41 380.51,373.32 376.97,374.34 373.43,375.49 369.88,376.75 366.34,378.11 362.79,379.55 359.25,381.06 355.70,382.61 352.16,384.20 348.61,385.82 345.06,387.46 341.52,389.12 337.98,390.80 334.43,392.48 330.88,394.18 327.34,395.88 323.80,397.59 320.25,399.30 316.71,401.02 313.16,402.74 309.62,404.47 306.07,406.19 302.53,407.92 298.98,409.65 295.44,411.39 291.89,413.12 288.35,414.86 284.80,416.60" fill="#ebb4b4"/>
<polyline points="284.80,379.10 288.35,378.68 291.89,378.25 295.44,377.83 298.98,377.40 302.53,376.96 306.07,376.52 309.62,376.08 313.16,375.62 316.71,375.17 320.25,374.70 323.80,374.23 327.34,373.75 330.88,373.25 334.43,372.74 337.98,372.22 341.52,371.67 345.06,371.11 348.61,370.52 352.16,369.90 355.70,369.24 359.25,368.55 362.79,367.80 366.34,367.00 369.88,366.14 373.43,365.21 376.97,364.21 380.51,363.14 384.06,362.00 387.61,360.78 391.15,359.50 394.70,358.16 398.24,356.78 401.79,355.34 405.33,353.87 408.88,352.37 412.42,350.83 415.97,349.28 419.51,347.70 423.06,346.11 426.60,344.50" stroke="#dc7878" stroke-width="1.45" stroke-dasharray="3.6 2.4" fill="none"/>
<polyline points="284.80,416.60 288.35,414.86 291.89,413.12 295.44,411.39 298.98,409.65 302.53,407.92 306.07,406.19 309.62,404.47 313.16,402.74 316.71,401.02 320.25,399.30 323.80,397.59 327.34,395.88 330.88,394.18 334.43,392.48 337.98,390.80 341.52,389.12 345.06,387.46 348.61,385.82 352.16,384.20 355.70,382.61 359.25,381.06 362.79,379.55 366.34,378.11 369.88,376.75 373.43,375.49 376.97,374.34 380.51,373.32 384.06,372.41 387.61,371.61 391.15,370.90 394.70,370.27 398.24,369.68 401.79,369.15 405.33,368.64 408.88,368.16 412.42,367.71 415.97,367.26 419.51,366.83 423.06,366.41 426.60,366.00" stroke="#dc7878" stroke-width="1.45" stroke-dasharray="3.6 2.4" fill="none"/>
<path d="M284.8 397.8L426.6 355.6" stroke="#c84545" stroke-width="2.3" fill="none"/>
<circle cx="341.3" cy="341.2" r="3.15" fill="none" stroke="#000" stroke-width="1.05"/>
<circle cx="399.7" cy="346.5" r="3.15" fill="none" stroke="#000" stroke-width="1.05"/>
<circle cx="370.0" cy="352.3" r="3.15" fill="none" stroke="#000" stroke-width="1.05"/>
<circle cx="389.1" cy="353.1" r="3.15" fill="none" stroke="#000" stroke-width="1.05"/>
<circle cx="400.5" cy="356.7" r="3.15" fill="none" stroke="#000" stroke-width="1.05"/>
<circle cx="366.4" cy="357.7" r="3.15" fill="none" stroke="#000" stroke-width="1.05"/>
<circle cx="425.8" cy="355.9" r="3.15" fill="none" stroke="#000" stroke-width="1.05"/>
<circle cx="358.1" cy="360.9" r="3.15" fill="none" stroke="#000" stroke-width="1.05"/>
<circle cx="361.4" cy="363.8" r="3.15" fill="none" stroke="#000" stroke-width="1.05"/>
<circle cx="363.9" cy="367.6" r="3.15" fill="none" stroke="#000" stroke-width="1.05"/>
<circle cx="380.4" cy="363.5" r="3.15" fill="none" stroke="#000" stroke-width="1.05"/>
<circle cx="382.9" cy="362.5" r="3.15" fill="none" stroke="#000" stroke-width="1.05"/>
<circle cx="386.5" cy="363.0" r="3.15" fill="none" stroke="#000" stroke-width="1.05"/>
<circle cx="387.0" cy="365.5" r="3.15" fill="none" stroke="#000" stroke-width="1.05"/>
<circle cx="420.0" cy="363.8" r="3.15" fill="none" stroke="#000" stroke-width="1.05"/>
<circle cx="417.0" cy="371.7" r="3.15" fill="none" stroke="#000" stroke-width="1.05"/>
<circle cx="337.0" cy="373.7" r="3.15" fill="none" stroke="#000" stroke-width="1.05"/>
<circle cx="372.5" cy="373.4" r="3.15" fill="none" stroke="#000" stroke-width="1.05"/>
<circle cx="394.7" cy="375.4" r="3.15" fill="none" stroke="#000" stroke-width="1.05"/>
<circle cx="371.0" cy="380.0" r="3.15" fill="none" stroke="#000" stroke-width="1.05"/>
<circle cx="375.9" cy="381.5" r="3.15" fill="none" stroke="#000" stroke-width="1.05"/>
<circle cx="378.2" cy="380.7" r="3.15" fill="none" stroke="#000" stroke-width="1.05"/>
<circle cx="374.6" cy="383.6" r="3.15" fill="none" stroke="#000" stroke-width="1.05"/>
<circle cx="373.3" cy="386.9" r="3.15" fill="none" stroke="#000" stroke-width="1.05"/>
<circle cx="383.3" cy="382.8" r="3.15" fill="none" stroke="#000" stroke-width="1.05"/>
<circle cx="402.7" cy="382.5" r="3.15" fill="none" stroke="#000" stroke-width="1.05"/>
<circle cx="411.2" cy="382.5" r="3.15" fill="none" stroke="#000" stroke-width="1.05"/>
<circle cx="415.5" cy="385.8" r="3.15" fill="none" stroke="#000" stroke-width="1.05"/>
<circle cx="392.8" cy="386.4" r="3.15" fill="none" stroke="#000" stroke-width="1.05"/>
<circle cx="398.0" cy="389.7" r="3.15" fill="none" stroke="#000" stroke-width="1.05"/>
<circle cx="351.0" cy="384.1" r="3.15" fill="none" stroke="#000" stroke-width="1.05"/>
<circle cx="358.1" cy="388.9" r="3.15" fill="none" stroke="#000" stroke-width="1.05"/>
<circle cx="361.7" cy="389.7" r="3.15" fill="none" stroke="#000" stroke-width="1.05"/>
<circle cx="372.6" cy="387.8" r="3.15" fill="none" stroke="#000" stroke-width="1.05"/>
<circle cx="382.5" cy="395.2" r="3.15" fill="none" stroke="#000" stroke-width="1.05"/>
<circle cx="387.8" cy="396.8" r="3.15" fill="none" stroke="#000" stroke-width="1.05"/>
<circle cx="330.3" cy="367.6" r="3.15" fill="none" stroke="#000" stroke-width="1.05"/>
<circle cx="285.4" cy="404.2" r="3.15" fill="none" stroke="#000" stroke-width="1.05"/>
<path d="M280.3 325.20V447.40H442.00" stroke="#000" stroke-width="1.4" fill="none"/>
<path d="M276.90 325.90H280.3" stroke="#000" stroke-width="1.4"/>
<text transform="translate(271.70 329.50) scale(1 1.08)" font-size="10" text-anchor="end">1.6</text>
<path d="M276.90 366.40H280.3" stroke="#000" stroke-width="1.4"/>
<text transform="translate(271.70 370.00) scale(1 1.08)" font-size="10" text-anchor="end">1.2</text>
<path d="M276.90 406.90H280.3" stroke="#000" stroke-width="1.4"/>
<text transform="translate(271.70 410.50) scale(1 1.08)" font-size="10" text-anchor="end">0.8</text>
<path d="M276.90 447.40H280.3" stroke="#000" stroke-width="1.4"/>
<text transform="translate(271.70 451.00) scale(1 1.08)" font-size="10" text-anchor="end">0.4</text>
<path d="M280.30 447.40V450.60" stroke="#000" stroke-width="1.4"/>
<text transform="translate(280.30 463) scale(1 1.08)" font-size="10" text-anchor="middle">-1</text>
<path d="M317.05 447.40V450.60" stroke="#000" stroke-width="1.4"/>
<text transform="translate(317.05 463) scale(1 1.08)" font-size="10" text-anchor="middle">-0.5</text>
<path d="M353.80 447.40V450.60" stroke="#000" stroke-width="1.4"/>
<text transform="translate(353.80 463) scale(1 1.08)" font-size="10" text-anchor="middle">0</text>
<path d="M390.55 447.40V450.60" stroke="#000" stroke-width="1.4"/>
<text transform="translate(390.55 463) scale(1 1.08)" font-size="10" text-anchor="middle">0.5</text>
<path d="M427.30 447.40V450.60" stroke="#000" stroke-width="1.4"/>
<text transform="translate(427.30 463) scale(1 1.08)" font-size="10" text-anchor="middle">1</text>
<text transform="translate(365.8 425.5) scale(1 1.08)" font-size="11.5"><tspan font-style="italic">r</tspan> = 0.38</text>
<text transform="translate(365.8 440) scale(1 1.08)" font-size="11.5"><tspan font-style="italic">p</tspan> = 0.017</text>
<text transform="translate(598.7 302.9) scale(1 1.08)" font-weight="bold" font-size="11.6" text-anchor="middle">Somatomotor area and</text>
<text transform="translate(598.6 316.7) scale(1 1.08)" font-weight="bold" font-size="11.6" text-anchor="middle">Ventral prefrontal cortex</text>
<polygon points="536.10,391.10 539.34,390.26 542.58,389.42 545.81,388.57 549.05,387.72 552.29,386.87 555.52,386.01 558.76,385.14 562.00,384.27 565.24,383.39 568.48,382.50 571.71,381.60 574.95,380.69 578.19,379.77 581.43,378.83 584.66,377.88 587.90,376.90 591.14,375.90 594.38,374.87 597.61,373.81 600.85,372.71 604.09,371.56 607.33,370.36 610.56,369.11 613.80,367.79 617.04,366.41 620.27,364.95 623.51,363.42 626.75,361.82 629.99,360.15 633.23,358.43 636.46,356.65 639.70,354.82 642.94,352.95 646.18,351.04 649.41,349.11 652.65,347.14 655.89,345.16 659.12,343.15 662.36,341.13 665.60,339.10 665.60,362.40 662.36,363.27 659.12,364.14 655.89,365.04 652.65,365.95 649.41,366.88 646.18,367.84 642.94,368.83 639.70,369.85 636.46,370.92 633.23,372.04 629.99,373.22 626.75,374.47 623.51,375.80 620.27,377.21 617.04,378.70 613.80,380.28 610.56,381.95 607.33,383.68 604.09,385.48 600.85,387.34 597.61,389.24 594.38,391.18 591.14,393.16 587.90,395.16 584.66,397.19 581.43,399.24 578.19,401.30 574.95,403.38 571.71,405.47 568.48,407.57 565.24,409.68 562.00,411.80 558.76,413.92 555.52,416.05 552.29,418.18 549.05,420.32 545.81,422.46 542.58,424.60 539.34,426.75 536.10,428.90" fill="#ebb4b4"/>
<polyline points="536.10,391.10 539.34,390.26 542.58,389.42 545.81,388.57 549.05,387.72 552.29,386.87 555.52,386.01 558.76,385.14 562.00,384.27 565.24,383.39 568.48,382.50 571.71,381.60 574.95,380.69 578.19,379.77 581.43,378.83 584.66,377.88 587.90,376.90 591.14,375.90 594.38,374.87 597.61,373.81 600.85,372.71 604.09,371.56 607.33,370.36 610.56,369.11 613.80,367.79 617.04,366.41 620.27,364.95 623.51,363.42 626.75,361.82 629.99,360.15 633.23,358.43 636.46,356.65 639.70,354.82 642.94,352.95 646.18,351.04 649.41,349.11 652.65,347.14 655.89,345.16 659.12,343.15 662.36,341.13 665.60,339.10" stroke="#dc7878" stroke-width="1.45" stroke-dasharray="3.6 2.4" fill="none"/>
<polyline points="536.10,428.90 539.34,426.75 542.58,424.60 545.81,422.46 549.05,420.32 552.29,418.18 555.52,416.05 558.76,413.92 562.00,411.80 565.24,409.68 568.48,407.57 571.71,405.47 574.95,403.38 578.19,401.30 581.43,399.24 584.66,397.19 587.90,395.16 591.14,393.16 594.38,391.18 597.61,389.24 600.85,387.34 604.09,385.48 607.33,383.68 610.56,381.95 613.80,380.28 617.04,378.70 620.27,377.21 623.51,375.80 626.75,374.47 629.99,373.22 633.23,372.04 636.46,370.92 639.70,369.85 642.94,368.83 646.18,367.84 649.41,366.88 652.65,365.95 655.89,365.04 659.12,364.14 662.36,363.27 665.60,362.40" stroke="#dc7878" stroke-width="1.45" stroke-dasharray="3.6 2.4" fill="none"/>
<path d="M536.1 409.7L665.6 350.7" stroke="#c84545" stroke-width="2.3" fill="none"/>
<circle cx="605.9" cy="341.4" r="3.15" fill="none" stroke="#000" stroke-width="1.05"/>
<circle cx="647.6" cy="346.6" r="3.15" fill="none" stroke="#000" stroke-width="1.05"/>
<circle cx="615.5" cy="352.4" r="3.15" fill="none" stroke="#000" stroke-width="1.05"/>
<circle cx="623.1" cy="353.3" r="3.15" fill="none" stroke="#000" stroke-width="1.05"/>
<circle cx="607.0" cy="357.7" r="3.15" fill="none" stroke="#000" stroke-width="1.05"/>
<circle cx="644.6" cy="356.8" r="3.15" fill="none" stroke="#000" stroke-width="1.05"/>
<circle cx="664.6" cy="355.9" r="3.15" fill="none" stroke="#000" stroke-width="1.05"/>
<circle cx="570.2" cy="362.9" r="3.15" fill="none" stroke="#000" stroke-width="1.05"/>
<circle cx="584.2" cy="367.7" r="3.15" fill="none" stroke="#000" stroke-width="1.05"/>
<circle cx="609.1" cy="362.9" r="3.15" fill="none" stroke="#000" stroke-width="1.05"/>
<circle cx="610.8" cy="364.2" r="3.15" fill="none" stroke="#000" stroke-width="1.05"/>
<circle cx="612.6" cy="363.8" r="3.15" fill="none" stroke="#000" stroke-width="1.05"/>
<circle cx="621.3" cy="367.3" r="3.15" fill="none" stroke="#000" stroke-width="1.05"/>
<circle cx="632.7" cy="363.3" r="3.15" fill="none" stroke="#000" stroke-width="1.05"/>
<circle cx="633.2" cy="365.9" r="3.15" fill="none" stroke="#000" stroke-width="1.05"/>
<circle cx="638.3" cy="363.6" r="3.15" fill="none" stroke="#000" stroke-width="1.05"/>
<circle cx="640.9" cy="361.2" r="3.15" fill="none" stroke="#000" stroke-width="1.05"/>
<circle cx="594.7" cy="373.4" r="3.15" fill="none" stroke="#000" stroke-width="1.05"/>
<circle cx="609.9" cy="373.4" r="3.15" fill="none" stroke="#000" stroke-width="1.05"/>
<circle cx="637.6" cy="375.6" r="3.15" fill="none" stroke="#000" stroke-width="1.05"/>
<circle cx="654.6" cy="371.7" r="3.15" fill="none" stroke="#000" stroke-width="1.05"/>
<circle cx="588.6" cy="385.7" r="3.15" fill="none" stroke="#000" stroke-width="1.05"/>
<circle cx="596.4" cy="389.9" r="3.15" fill="none" stroke="#000" stroke-width="1.05"/>
<circle cx="599.9" cy="388.7" r="3.15" fill="none" stroke="#000" stroke-width="1.05"/>
<circle cx="602.9" cy="387.5" r="3.15" fill="none" stroke="#000" stroke-width="1.05"/>
<circle cx="616.9" cy="380.5" r="3.15" fill="none" stroke="#000" stroke-width="1.05"/>
<circle cx="616.9" cy="382.2" r="3.15" fill="none" stroke="#000" stroke-width="1.05"/>
<circle cx="617.5" cy="386.4" r="3.15" fill="none" stroke="#000" stroke-width="1.05"/>
<circle cx="622.2" cy="384.7" r="3.15" fill="none" stroke="#000" stroke-width="1.05"/>
<circle cx="625.7" cy="382.6" r="3.15" fill="none" stroke="#000" stroke-width="1.05"/>
<circle cx="645.3" cy="382.2" r="3.15" fill="none" stroke="#000" stroke-width="1.05"/>
<circle cx="647.6" cy="382.6" r="3.15" fill="none" stroke="#000" stroke-width="1.05"/>
<circle cx="653.4" cy="385.7" r="3.15" fill="none" stroke="#000" stroke-width="1.05"/>
<circle cx="645.8" cy="390.1" r="3.15" fill="none" stroke="#000" stroke-width="1.05"/>
<circle cx="617.8" cy="395.3" r="3.15" fill="none" stroke="#000" stroke-width="1.05"/>
<circle cx="626.9" cy="396.6" r="3.15" fill="none" stroke="#000" stroke-width="1.05"/>
<circle cx="536.9" cy="404.6" r="3.15" fill="none" stroke="#000" stroke-width="1.05"/>
<path d="M518.5 325.20V447.40H680.20" stroke="#000" stroke-width="1.4" fill="none"/>
<path d="M515.10 325.90H518.5" stroke="#000" stroke-width="1.4"/>
<text transform="translate(509.90 329.50) scale(1 1.08)" font-size="10" text-anchor="end">1.6</text>
<path d="M515.10 366.40H518.5" stroke="#000" stroke-width="1.4"/>
<text transform="translate(509.90 370.00) scale(1 1.08)" font-size="10" text-anchor="end">1.2</text>
<path d="M515.10 406.90H518.5" stroke="#000" stroke-width="1.4"/>
<text transform="translate(509.90 410.50) scale(1 1.08)" font-size="10" text-anchor="end">0.8</text>
<path d="M515.10 447.40H518.5" stroke="#000" stroke-width="1.4"/>
<text transform="translate(509.90 451.00) scale(1 1.08)" font-size="10" text-anchor="end">0.4</text>
<path d="M518.50 447.40V450.60" stroke="#000" stroke-width="1.4"/>
<text transform="translate(518.50 463) scale(1 1.08)" font-size="10" text-anchor="middle">-1</text>
<path d="M555.25 447.40V450.60" stroke="#000" stroke-width="1.4"/>
<text transform="translate(555.25 463) scale(1 1.08)" font-size="10" text-anchor="middle">-0.5</text>
<path d="M592.00 447.40V450.60" stroke="#000" stroke-width="1.4"/>
<text transform="translate(592.00 463) scale(1 1.08)" font-size="10" text-anchor="middle">0</text>
<path d="M628.75 447.40V450.60" stroke="#000" stroke-width="1.4"/>
<text transform="translate(628.75 463) scale(1 1.08)" font-size="10" text-anchor="middle">0.5</text>
<path d="M665.50 447.40V450.60" stroke="#000" stroke-width="1.4"/>
<text transform="translate(665.50 463) scale(1 1.08)" font-size="10" text-anchor="middle">1</text>
<text transform="translate(604.3 425.5) scale(1 1.08)" font-size="11.5"><tspan font-style="italic">r</tspan> = 0.49</text>
<text transform="translate(604.3 440) scale(1 1.08)" font-size="11.5"><tspan font-style="italic">p</tspan> = 0.001</text>
<text transform="translate(9.2 385.6) rotate(-90) scale(1 1.08)" font-size="11.6" text-anchor="middle">Reaction time (Binding)</text>
<text transform="translate(356 482.3) scale(1 1.08)" font-size="11.6" text-anchor="middle">Connection weights (Binding)</text>
</svg>
</body></html>
